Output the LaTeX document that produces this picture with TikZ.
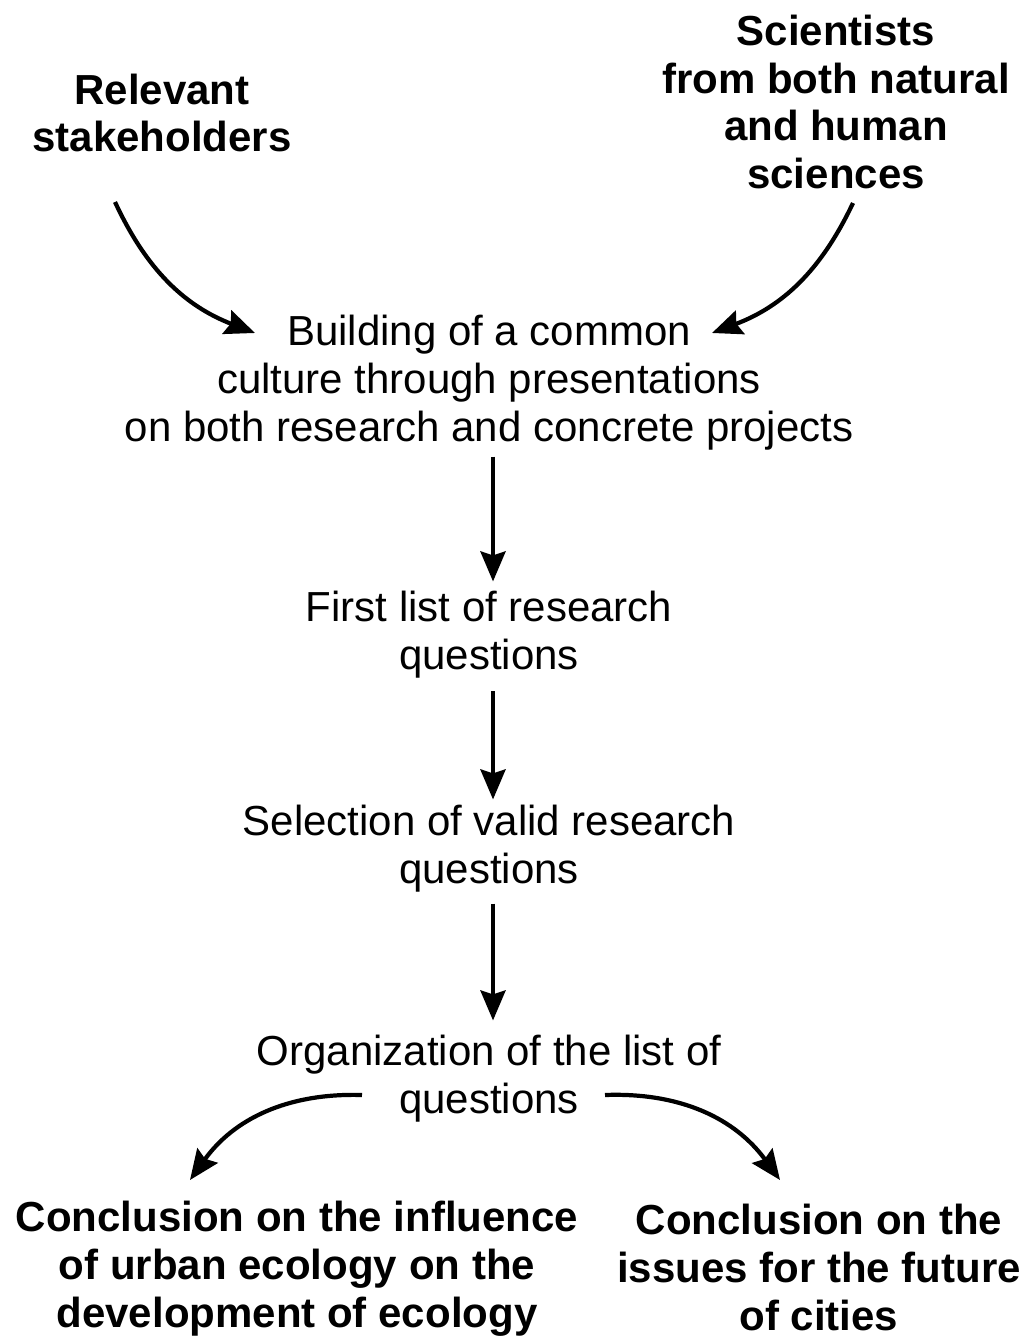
\documentclass[tikz,border=0pt]{standalone}
\usepackage{fontspec}
\setmainfont{Liberation Sans}
\usepackage{tikz}
\usetikzlibrary{positioning}
\usetikzlibrary{arrows.meta,calc}
\tikzset{
    %Define standard arrow tip
    >={Stealth[length=0.6cm,width=0.5cm,inset=0.08cm]},
    % Define arrow style
    pil/.style={
           ->,
           color=black,
           line width=2.4pt,}
}
\newcommand{\diagfont}{\fontsize{23.9}{27.3}\selectfont}

\begin{document}
\begin{tikzpicture}[node distance=0 cm,outer sep = 0pt]
\tikzstyle{steptext}=[align=center, inner sep=0pt, font=\diagfont]
%
\tikzstyle{sourcetext}=[align=center, inner sep=0pt, font=\diagfont\bfseries]
%
\useasboundingbox (0,0) rectangle (20.6,-26.76);

\node[sourcetext] (stake) at (3.24,-2.26) {Relevant\\ stakeholders};
\node[sourcetext] (scient) at (16.72,-2.04) {Scientists\\ from both natural\\ and human\\ sciences};

\node[steptext] (culture) at (9.78,-7.66) {Building of a common\\ culture through presentations\\ on both research and concrete projects};
\node[steptext] (firstlist) at (9.78,-12.70) {First list of research\\ questions};
\node[steptext] (select) at (9.78,-16.98) {Selection of valid research\\ questions};
\node[steptext] (organize) at (9.78,-21.58) {Organization of the list of\\ questions};

\node[sourcetext] (concleft) at (5.94,-25.38) {Conclusion on the influence\\ of urban ecology on the\\ development of ecology};
\node[sourcetext] (concright) at (16.38,-25.34) {Conclusion on the\\ issues for the future\\ of cities};

% free ends of the curved arrows
\coordinate (stakeout) at (2.30,-4.04);
\coordinate (culturein1) at (5.10,-6.66);
\coordinate (scientout) at (17.06,-4.06);
\coordinate (culturein2) at (14.24,-6.66);
\coordinate (orgout1) at (7.24,-21.90);
\coordinate (concleftin) at (3.80,-23.60);
\coordinate (orgout2) at (12.10,-21.90);
\coordinate (concrightin) at (15.60,-23.60);

\draw[pil] (stakeout) to[bend right=22] (culturein1);
\draw[pil] (scientout) to[bend left=22] (culturein2);

\draw[pil,shorten <=0.12cm,shorten >=0.2cm] ([xshift=0.08cm]culture.south) -- ([xshift=0.08cm]firstlist.north);
\draw[pil,shorten <=0.25cm,shorten >=0.12cm] ([xshift=0.08cm]firstlist.south) -- ([xshift=0.08cm]select.north);
\draw[pil,shorten <=0.22cm,shorten >=0.3cm] ([xshift=0.08cm]select.south) -- ([xshift=0.08cm]organize.north);

\draw[pil] (orgout1) to[bend right=28] (concleftin);
\draw[pil] (orgout2) to[bend left=28] (concrightin);

\end{tikzpicture}
\end{document}
